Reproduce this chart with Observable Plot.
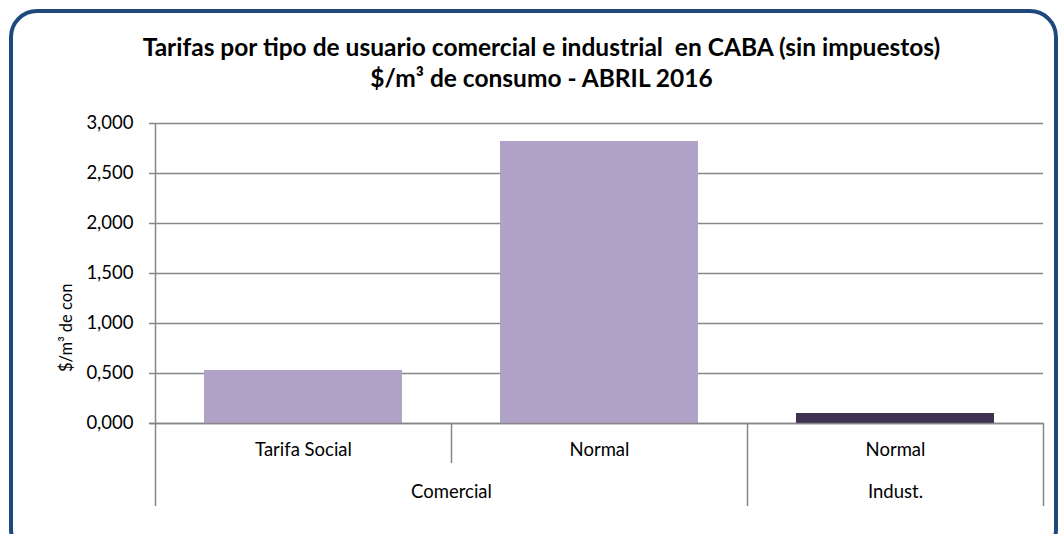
<!DOCTYPE html>
<html>
<head>
<meta charset="utf-8">
<script src="https://cdn.jsdelivr.net/npm/d3@7"></script>
<script src="https://cdn.jsdelivr.net/npm/@observablehq/plot@0.6"></script>
<style>
  html, body { margin: 0; padding: 0; background: #fff; overflow: hidden; }
  #wrap { position: relative; width: 1062px; height: 534px; overflow: hidden; font-family: Lato, "Open Sans", sans-serif; }
  #frame { position: absolute; left: 9px; top: 9px; width: 1041px; height: 540px; border: 4px solid #1F497D; border-radius: 28px; box-sizing: content-box; pointer-events: none; }
  #title { position: absolute; left: 0; top: 31px; width: 1083px; text-align: center; font-weight: bold; font-size: 24.5px; line-height: 31px; color: #000; }
  #ylab { position: absolute; left: 56px; top: 283px; height: 89px; width: 24px; overflow: hidden; writing-mode: vertical-rl; transform: rotate(180deg); white-space: nowrap; font-size: 16.5px; color: #000; }
  #chart { position: absolute; left: 0; top: 0; }
</style>
</head>
<body>
<div id="wrap">
  <div id="chart"></div>
  <div id="title">Tarifas por tipo de usuario comercial e industrial&nbsp; en CABA (sin impuestos)<br>$/m³ de consumo - ABRIL 2016</div>
  <div id="ylab">$/m³ de consumo</div>
  <div id="frame"></div>
</div>
<script>
const groups = ["Comercial", "Comercial", "Indust."];
const subcategories = ["Tarifa Social", "Normal", "Normal"];
const values = [0.53, 2.82, 0.10];
const barColors = ["#B1A2C8", "#B1A2C8", "#403152"];
const yTicks = [0, 0.5, 1, 1.5, 2, 2.5, 3];

const rows = values.map((v, i) => ({i, value: v, sub: subcategories[i], group: groups[i], color: barColors[i]}));

// category boundaries
const bounds = [];
for (let k = 0; k <= rows.length; k++) {
  const b = k - 0.5;
  const left = groups[k - 1], right = groups[k];
  bounds.push({x: b, long: left === undefined || right === undefined || left !== right, edge: left === undefined});
}
// group labels at mean index
const groupNames = [...new Set(groups)];
const groupLabels = groupNames.map(g => {
  const idx = rows.filter(r => r.group === g).map(r => r.i);
  return {group: g, x: d3.mean(idx)};
});

const fmt = d => d.toFixed(3).replace(".", ",");
const grid = "#878787";
const fs = 18.5;

const chart = Plot.plot({
  width: 1062,
  height: 534,
  marginLeft: 155,
  marginRight: 19,
  marginTop: 123,
  marginBottom: 111,
  style: {fontFamily: "Lato, 'Open Sans', sans-serif", fontSize: fs + "px", color: "#000", background: "transparent"},
  x: {domain: [-0.5, rows.length - 0.5], axis: null},
  y: {domain: [0, 3], label: null},
  marks: [
    Plot.ruleY(yTicks, {stroke: grid, strokeWidth: 1.5, insetLeft: -6}),
    Plot.rectY(rows, {x1: d => d.i - 0.5, x2: d => d.i + 0.5, y1: 0, y2: "value", fill: "color", insetLeft: 49, insetRight: 49}),
    Plot.ruleY([0], {stroke: grid, strokeWidth: 1.5, insetLeft: -6}),
    Plot.ruleX(bounds.filter(b => b.edge), {x: "x", stroke: grid, strokeWidth: 1.5, insetBottom: -83}),
    Plot.ruleX(bounds.filter(b => !b.edge && b.long), {x: "x", stroke: grid, strokeWidth: 1.5, insetTop: 300, insetBottom: -83}),
    Plot.ruleX(bounds.filter(b => !b.long), {x: "x", stroke: grid, strokeWidth: 1.5, insetTop: 300, insetBottom: -40}),
    Plot.axisY({ticks: yTicks, tickFormat: fmt, tickSize: 0, tickPadding: 22, fontSize: fs, label: null}),
    Plot.text(rows, {x: "i", text: "sub", frameAnchor: "bottom", dy: 27, lineAnchor: "middle", fontSize: fs, fill: "#000"}),
    Plot.text(groupLabels, {x: "x", text: "group", frameAnchor: "bottom", dy: 69, lineAnchor: "middle", fontSize: fs, fill: "#000"})
  ]
});
document.getElementById("chart").appendChild(chart);
</script>
</body>
</html>
